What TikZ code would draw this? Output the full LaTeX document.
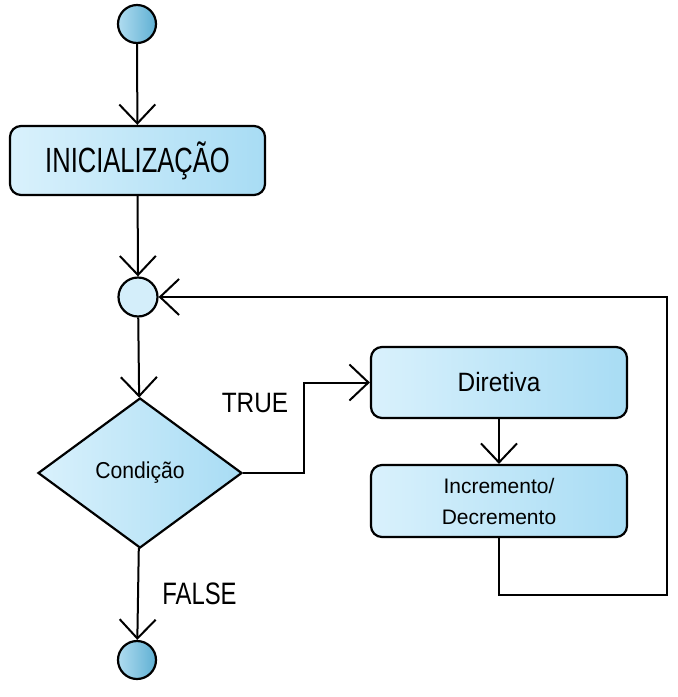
\documentclass[tikz,border=0pt]{standalone}
\usepackage{fontspec}
\setmainfont{Liberation Sans}
\usetikzlibrary{arrows.meta,shapes.geometric}
\definecolor{boxL}{HTML}{D9F1FC}
\definecolor{boxR}{HTML}{A8DCF4}
\definecolor{termL}{HTML}{B0DCF0}
\definecolor{termR}{HTML}{5FB0D3}
\definecolor{mergeC}{HTML}{D4EEFA}
\newcommand{\hsx}[2]{\scalebox{#1}[1]{#2}}
\begin{document}
\begin{tikzpicture}[x=1pt,y=-1pt,
  lbox/.style={draw, line width=2.2pt, rounded corners=11pt, left color=boxL, right color=boxR, inner sep=0pt, align=center},
  term/.style={circle, draw, line width=2.2pt, left color=termL, right color=termR, minimum size=38pt, inner sep=0pt},
  mergenode/.style={circle, draw, line width=2.2pt, fill=mergeC, minimum size=39pt, inner sep=0pt},
  decision/.style={diamond, draw, line width=2.2pt, left color=boxL, right color=boxR, minimum width=204pt, minimum height=150pt, inner sep=0pt},
  arr/.style={line width=2pt, -{Straight Barb[length=19pt,width=36pt,line width=2pt]}},
  lbl/.style={inner sep=0pt, text depth=0pt}
]
\useasboundingbox (0,0) rectangle (678,697);

\node[term] (start) at (137,24) {};
\node[lbox, minimum width=255pt, minimum height=69pt] (init) at (137.5,160.5)
  {\fontsize{35}{40}\selectfont\hsx{0.73}{INICIALIZAÇÃO}};
\node[mergenode] (merge) at (138,297) {};
\node[decision] (cond) at (140,473) {\fontsize{23}{26}\selectfont\hsx{0.92}{Condição}};
\node[term] (end) at (137,660) {};
\node[lbox, minimum width=256pt, minimum height=71pt] (dir) at (499,382.5)
  {\fontsize{26.5}{30}\selectfont\hsx{0.92}{Diretiva}};
\node[lbox, minimum width=256pt, minimum height=72pt, font=\fontsize{21}{31}\selectfont] (inc) at (499,501)
  {Incremento/\\Decremento};

\node[lbl] (true) at (255,403) {\fontsize{28}{32}\selectfont\hsx{0.87}{TRUE}};
\node[lbl] (false) at (199.5,594) {\fontsize{31}{34}\selectfont\hsx{0.77}{FALSE}};

\coordinate (c1) at (667,595);

\draw[arr] (start) -- (init);
\draw[arr] (init) -- (merge);
\draw[arr] (merge) -- (cond);
\draw[arr] (cond) -- (end);
\draw[arr] (cond.east) -- ++(61,0) |- (dir.west);
\draw[arr] (dir) -- (inc);
\draw[arr] (inc.south) |- (c1) |- (merge.east);
\end{tikzpicture}
\end{document}
